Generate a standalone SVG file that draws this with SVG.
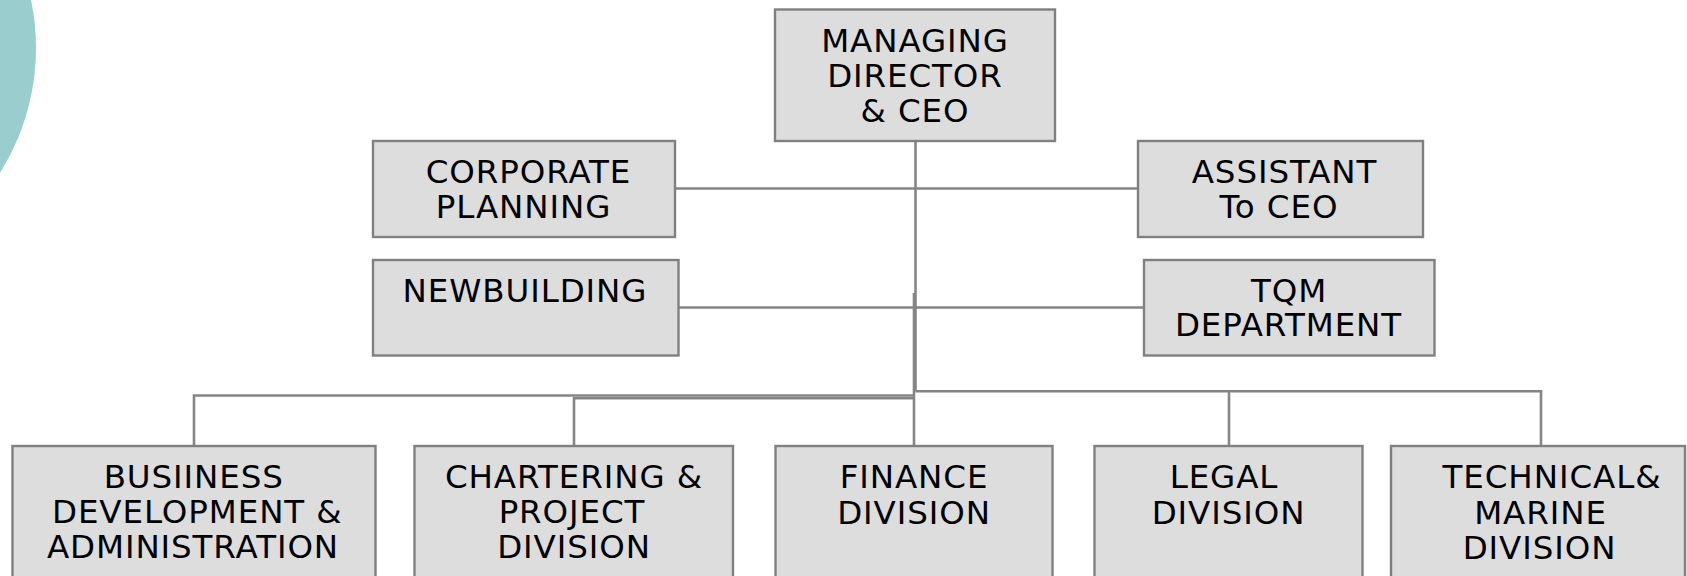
<svg xmlns="http://www.w3.org/2000/svg" width="1687" height="576" viewBox="0 0 1687 576">
<style>
.box{fill:#DDDDDD;stroke:#808080;stroke-width:2.4}
.ln{fill:none;stroke:#858585;stroke-width:2.6}
text{font-family:"DejaVu Sans","Liberation Sans",sans-serif;font-size:32.5px;fill:#000;text-anchor:middle;letter-spacing:0.9px}
</style>
<rect width="1687" height="576" fill="#FFFFFF"/>
<circle cx="-199" cy="48" r="235" fill="#9ACECE"/>
<g id="connectors">
<path class="ln" d="M915.5 141 V391.3"/>
<path class="ln" d="M675 188.5 H1138"/>
<path class="ln" d="M678 307.5 H1144"/>
<path class="ln" d="M914 293 V446"/>
<path class="ln" d="M194 446 V395.5 H915"/>
<path class="ln" d="M574 446 V398.3 H914"/>
<path class="ln" d="M915.5 391.3 H1541 V446"/>
<path class="ln" d="M1229 391.3 V446"/>
</g>
<g id="md">
<rect class="box" x="775" y="9.5" width="280" height="131.5"/>
<text x="915" y="52">MANAGING</text>
<text x="915" y="87">DIRECTOR</text>
<text x="915" y="122">&amp; CEO</text>
</g>
<g id="corporate">
<rect class="box" x="373" y="141" width="302" height="96"/>
<text x="528.5" y="183">CORPORATE</text>
<text x="523.5" y="218">PLANNING</text>
</g>
<g id="assistant">
<rect class="box" x="1138" y="141" width="285" height="96"/>
<text x="1284.5" y="183">ASSISTANT</text>
<text x="1279" y="218">To CEO</text>
</g>
<g id="newbuilding">
<rect class="box" x="373" y="260" width="305.5" height="95.5"/>
<text x="525" y="301.5">NEWBUILDING</text>
</g>
<g id="tqm">
<rect class="box" x="1144" y="260" width="290.5" height="95.5"/>
<text x="1289" y="301.5">TQM</text>
<text x="1288.5" y="336">DEPARTMENT</text>
</g>
<g id="business">
<rect class="box" x="12.5" y="446" width="363" height="150"/>
<text x="193.7" y="488">BUSIINESS</text>
<text x="197.3" y="523">DEVELOPMENT &amp;</text>
<text x="193" y="558">ADMINISTRATION</text>
</g>
<g id="chartering">
<rect class="box" x="414.5" y="446" width="318.5" height="150"/>
<text x="574" y="488">CHARTERING &amp;</text>
<text x="572" y="523">PROJECT</text>
<text x="574" y="558">DIVISION</text>
</g>
<g id="finance">
<rect class="box" x="775.5" y="446" width="277" height="150"/>
<text x="914" y="488">FINANCE</text>
<text x="914" y="524">DIVISION</text>
</g>
<g id="legal">
<rect class="box" x="1094.5" y="446" width="268" height="150"/>
<text x="1224" y="488">LEGAL</text>
<text x="1228.5" y="524">DIVISION</text>
</g>
<g id="technical">
<rect class="box" x="1391" y="446" width="294" height="150"/>
<text x="1552" y="488">TECHNICAL&amp;</text>
<text x="1540.5" y="524">MARINE</text>
<text x="1539.5" y="559">DIVISION</text>
</g>
</svg>
